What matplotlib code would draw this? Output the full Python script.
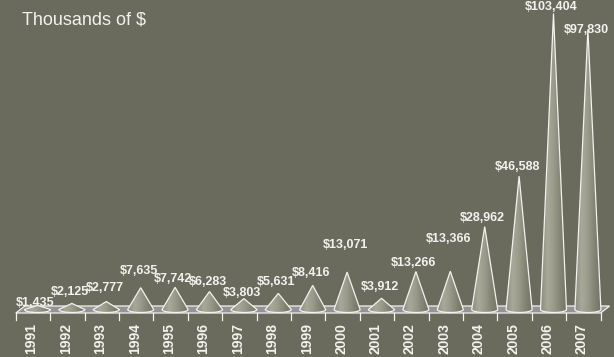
import numpy as np
import matplotlib
matplotlib.use('Agg')
from matplotlib import pyplot as plt
from matplotlib.patches import Polygon
from matplotlib.colors import LinearSegmentedColormap

plt.rcParams['font.family'] = ['Liberation Sans', 'DejaVu Sans']

years = ['1991', '1992', '1993', '1994', '1995', '1996', '1997', '1998', '1999',
         '2000', '2001', '2002', '2003', '2004', '2005', '2006', '2007']
values = [1435, 2125, 2777, 7635, 7742, 6283, 3803, 5631, 8416,
          13071, 3912, 13266, 13366, 28962, 46588, 103404, 97830]

bg = '#6a6b5d'
fg = '#f2f2ee'

W, H = 614, 357
fig = plt.figure(figsize=(W / 100, H / 100), dpi=100, facecolor=bg)
ax = fig.add_axes([0, 0, 1, 1])
ax.set_facecolor(bg)
ax.axis('off')

# pixel layout of the category axis and value scale
x0, step = 33.0, 34.4          # pixel x of first category, category spacing
y0, k = 309.5, 296.0 / 103404  # pixel y of zero, pixels per dollar
ax.set_xlim(-x0 / step, (W - x0) / step)
ax.set_ylim(-(H - y0) / k, y0 / k)


def px(d):   # horizontal pixels -> category units
    return d / step


def py(d):   # vertical pixels -> dollars
    return d / k


depth_x = 9.0
n = len(years)

# floor slab
floor = Polygon([(-0.5, -py(3.5)), (n - 0.5, -py(3.5)),
                 (n - 0.5 + px(depth_x), py(3.5)), (-0.5 + px(depth_x), py(3.5))],
                closed=True, facecolor='#939398', edgecolor=fg, lw=0.9, zorder=1)
ax.add_patch(floor)

# tick marks under the front edge
for t in np.arange(-0.5, n, 1.0):
    ax.plot([t, t], [-py(3.5), -py(10.5)], color=fg, lw=0.9, zorder=1)

# cones shaded with a horizontal gradient
cone_cmap = LinearSegmentedColormap.from_list(
    'cone', ['#8e8e80', '#a9a99a', '#9a9a8b', '#848475', '#747466'])
grad = np.linspace(0, 1, 64).reshape(1, -1)
hw = px(13.0)
eh = py(3.0)
th = np.linspace(0, np.pi, 30)

for i, v in enumerate(values):
    cx = i + px(depth_x / 2)
    base = [(cx + hw * np.cos(t), -eh * np.sin(t)) for t in th]
    shape = Polygon([(cx, v)] + base, closed=True, facecolor='none', edgecolor=fg,
                    lw=0.9, zorder=3 + i * 0.01)
    ax.add_patch(shape)
    img = ax.imshow(grad, cmap=cone_cmap, aspect='auto',
                    extent=(cx - hw, cx + hw, -eh, v), zorder=2 + i * 0.01)
    img.set_clip_path(shape)

# value labels above each cone tip
label_lift = [2, 11, 14, 17, 8, 10, 6, 11, 12, 27, 11, 9, 32, 9, 9, 6, -1]
for i, v in enumerate(values):
    cx = i + px(depth_x / 2) - px(2)
    ax.text(cx, v + py(label_lift[i]), '${:,}'.format(v), ha='center', va='center',
            fontsize=9, fontweight='bold', color=fg, zorder=5)

# category labels
for i, y in enumerate(years):
    ax.text(i - px(1.5), -py(13.5), y, rotation=90, ha='center', va='top',
            fontsize=10, fontweight='bold', color=fg)

ax.text(px(22) - x0 / step, py(y0 - 20), 'Thousands of $', ha='left', va='center',
        fontsize=13, color=fg)

fig.savefig('out.png', dpi=100, facecolor=bg)
